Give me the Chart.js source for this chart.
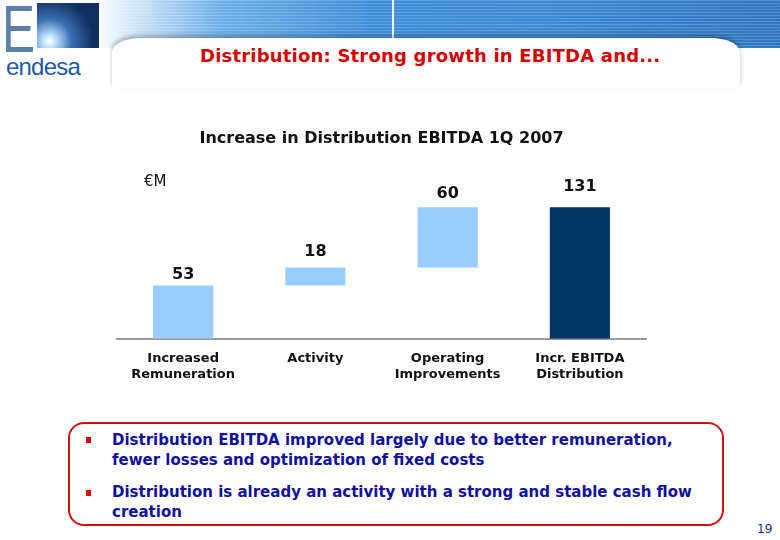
<!DOCTYPE html>
<html>
<head>
<meta charset="utf-8">
<script src="https://cdn.jsdelivr.net/npm/chart.js@4.4.1/dist/chart.umd.min.js"></script>
<style>
  body { margin: 0; width: 780px; height: 540px; position: relative; background: #fff; font-family: "DejaVu Sans", Verdana, sans-serif; overflow: hidden; }
  .banner { position: absolute; left: 95px; top: 0; width: 685px; height: 48px;
    background: repeating-linear-gradient(to bottom, rgba(255,255,255,0.18) 0 1px, rgba(255,255,255,0) 1px 3px),
                linear-gradient(to right, #ffffff 0%, #6fb0e8 18%, #3f8fd8 40%, #3a88d0 70%, #2f78bf 100%); }
  .vline { position: absolute; left: 392px; top: 0; width: 2px; height: 46px; background: #fff; }
  .curve { position: absolute; left: 112px; top: 38px; width: 628px; height: 50px; background: #fff;
    border-top-left-radius: 30px 14px; border-top-right-radius: 30px 14px; box-shadow: 0 -3px 4px rgba(0,0,0,0.25); }
  .slidetitle { position: absolute; left: 200px; top: 45px; color: #d40000; font-weight: bold; font-size: 18px; letter-spacing: 0.2px; }
  .logoE { position: absolute; left: 2px; top: -9px; font-size: 66px; font-family: "Liberation Sans Narrow", "Liberation Sans", sans-serif; color: #5a7fa8; transform: scaleX(0.75); transform-origin: left; }
  .logoSq { position: absolute; left: 37px; top: 3px; width: 62px; height: 45px;
    background: radial-gradient(circle at 20% 85%, #ffffff 0%, #bfe4ff 10%, #3b6fb2 35%, #10305f 70%); }
  .endesa { position: absolute; left: 6px; top: 53px; font-size: 24px; color: #1f5aa5; font-family: "Liberation Sans", sans-serif; letter-spacing: -0.8px; }
  .box { position: absolute; left: 68px; top: 422px; width: 652px; height: 100px; border: 2px solid #cc1111; border-radius: 16px; }
  .bul { position: absolute; left: 112px; color: #10109a; font-weight: bold; font-size: 15px; line-height: 20px; }
  .sq { position: absolute; left: 86px; width: 5px; height: 6px; background: #e00000; }
  .pg { position: absolute; left: 757px; top: 522px; font-size: 12px; color: #1030a0; }
  #wrap { position: absolute; left: 100px; top: 119px; width: 580px; height: 275px; }
</style>
</head>
<body>
<div class="banner"></div>
<div class="vline"></div>
<div class="curve"></div>
<div class="slidetitle">Distribution: Strong growth in EBITDA and...</div>
<div class="logoE">E</div>
<div class="logoSq"></div>
<div class="endesa">endesa</div>

<div id="wrap"><canvas id="chart"></canvas></div>

<div class="box"></div>
<div class="sq" style="top:437px"></div>
<div class="bul" style="top:430px">Distribution EBITDA improved largely due to better remuneration,<br>fewer losses and optimization of fixed costs</div>
<div class="sq" style="top:490px"></div>
<div class="bul" style="top:482px">Distribution is already an activity with a strong and stable cash flow<br>creation</div>
<div class="pg">19</div>

<script>
// Datos del gráfico (cascada)
const categories = [['Increased', 'Remuneration'], 'Activity', ['Operating', 'Improvements'], ['Incr. EBITDA', 'Distribution']];
const increments = [53, 18, 60, 131];
const isTotal = [false, false, false, true];
const barColors = ['#99ccff', '#99ccff', '#99ccff', '#003366'];

// construir rangos flotantes a partir de los incrementos
let acc = 0;
const ranges = increments.map((v, i) => {
  if (isTotal[i]) return [0, v];
  const r = [acc, acc + v];
  acc += v;
  return r;
});

// Etiquetas de valor encima de cada barra
const labelGap = [3, 8, 5, 12];
const valueLabels = {
  id: 'valueLabels',
  afterDatasetsDraw(chart) {
    const ctx = chart.ctx;
    const meta = chart.getDatasetMeta(0);
    ctx.save();
    ctx.font = 'bold 16px "DejaVu Sans"';
    ctx.fillStyle = '#111';
    ctx.textAlign = 'center';
    ctx.textBaseline = 'bottom';
    meta.data.forEach((bar, i) => {
      ctx.fillText(String(increments[i]), bar.x, bar.y - labelGap[i]);
    });
    // unidad
    ctx.font = '15px "DejaVu Sans"';
    ctx.textAlign = 'left';
    ctx.fillText('€M', chart.chartArea.left + 27, chart.scales.y.getPixelForValue(149));
    ctx.restore();
  }
};

const ctx = document.getElementById('chart').getContext('2d');
const myChart = new Chart(ctx, {
  type: 'bar',
  data: {
    labels: categories,
    datasets: [{
      data: ranges,
      backgroundColor: barColors,
      borderWidth: 0,
      borderSkipped: false,
      barPercentage: 0.455,
      categoryPercentage: 1
    }]
  },
  options: {
    responsive: true,
    maintainAspectRatio: false,
    animation: false,
    layout: { padding: { left: 17, right: 34, top: 0, bottom: 0 } },
    plugins: {
      legend: { display: false },
      tooltip: { enabled: false },
      title: {
        display: true,
        text: 'Increase in Distribution EBITDA 1Q 2007',
        color: '#111',
        font: { family: 'DejaVu Sans', size: 16, weight: 'bold' },
        padding: { top: 10, bottom: 40 }
      }
    },
    scales: {
      x: {
        grid: { display: false, drawTicks: false },
        border: { color: '#999', width: 2 },
        ticks: { color: '#111', font: { family: 'DejaVu Sans', size: 13, weight: 'bold' }, padding: 12 }
      },
      y: {
        display: false,
        min: 0,
        max: 150
      }
    }
  },
  plugins: [valueLabels]
});
</script>
</body>
</html>
